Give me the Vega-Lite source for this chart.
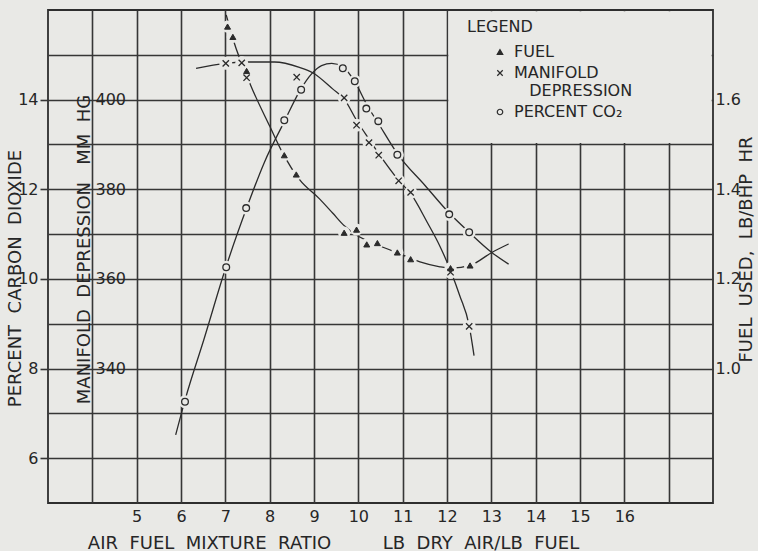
{
  "$schema": "https://vega.github.io/schema/vega-lite/v6.json",
  "width": 665,
  "height": 493,
  "autosize": {"type": "none"},
  "padding": {"left": 48, "top": 10, "right": 45, "bottom": 48},
  "background": "#e9e9e6",
  "config": {
    "font": "DejaVu Sans",
    "view": {"stroke": "#2e2e2e", "strokeWidth": 1.8},
    "axis": {
      "labelFont": "DejaVu Sans",
      "labelFontSize": 16,
      "labelColor": "#262626",
      "labelOverlap": false,
      "labelFlush": false,
      "titleFont": "DejaVu Sans",
      "titleFontSize": 18,
      "titleFontWeight": "normal",
      "titleColor": "#262626",
      "gridColor": "#363636",
      "gridWidth": 1.6,
      "gridOpacity": 1,
      "domain": false,
      "tickColor": "#363636",
      "tickWidth": 1.6
    }
  },
  "datasets": {
    "readings": [
      {"series": "FUEL", "ratio": 7.05, "value": 1.763},
      {"series": "FUEL", "ratio": 7.17, "value": 1.74},
      {"series": "FUEL", "ratio": 7.48, "value": 1.664},
      {"series": "FUEL", "ratio": 8.33, "value": 1.476},
      {"series": "FUEL", "ratio": 8.6, "value": 1.433},
      {"series": "FUEL", "ratio": 9.68, "value": 1.303},
      {"series": "FUEL", "ratio": 9.96, "value": 1.31},
      {"series": "FUEL", "ratio": 10.19, "value": 1.277},
      {"series": "FUEL", "ratio": 10.43, "value": 1.28},
      {"series": "FUEL", "ratio": 10.88, "value": 1.259},
      {"series": "FUEL", "ratio": 11.18, "value": 1.244},
      {"series": "FUEL", "ratio": 12.08, "value": 1.224},
      {"series": "FUEL", "ratio": 12.52, "value": 1.23},
      {"series": "MANIFOLD DEPRESSION", "ratio": 7.01, "value": 408.1},
      {"series": "MANIFOLD DEPRESSION", "ratio": 7.37, "value": 408.2},
      {"series": "MANIFOLD DEPRESSION", "ratio": 7.48, "value": 404.9},
      {"series": "MANIFOLD DEPRESSION", "ratio": 8.61, "value": 405.0},
      {"series": "MANIFOLD DEPRESSION", "ratio": 9.68, "value": 400.4},
      {"series": "MANIFOLD DEPRESSION", "ratio": 9.96, "value": 394.3},
      {"series": "MANIFOLD DEPRESSION", "ratio": 10.24, "value": 390.4},
      {"series": "MANIFOLD DEPRESSION", "ratio": 10.46, "value": 387.6},
      {"series": "MANIFOLD DEPRESSION", "ratio": 10.91, "value": 381.9},
      {"series": "MANIFOLD DEPRESSION", "ratio": 11.18, "value": 379.3},
      {"series": "MANIFOLD DEPRESSION", "ratio": 12.08, "value": 361.5},
      {"series": "MANIFOLD DEPRESSION", "ratio": 12.5, "value": 349.4},
      {"series": "PERCENT CO₂", "ratio": 6.09, "value": 7.26},
      {"series": "PERCENT CO₂", "ratio": 7.02, "value": 10.26},
      {"series": "PERCENT CO₂", "ratio": 7.47, "value": 11.58},
      {"series": "PERCENT CO₂", "ratio": 8.33, "value": 13.54},
      {"series": "PERCENT CO₂", "ratio": 8.71, "value": 14.22},
      {"series": "PERCENT CO₂", "ratio": 9.65, "value": 14.7},
      {"series": "PERCENT CO₂", "ratio": 9.92, "value": 14.41},
      {"series": "PERCENT CO₂", "ratio": 10.18, "value": 13.8},
      {"series": "PERCENT CO₂", "ratio": 10.45, "value": 13.52},
      {"series": "PERCENT CO₂", "ratio": 10.88, "value": 12.77},
      {"series": "PERCENT CO₂", "ratio": 12.05, "value": 11.44},
      {"series": "PERCENT CO₂", "ratio": 12.5, "value": 11.04}
    ],
    "curves": [
      {"series": "FUEL", "ratio": 7.02, "value": 1.789},
      {"series": "FUEL", "ratio": 7.18, "value": 1.733},
      {"series": "FUEL", "ratio": 7.58, "value": 1.63},
      {"series": "FUEL", "ratio": 8.0, "value": 1.541},
      {"series": "FUEL", "ratio": 8.33, "value": 1.474},
      {"series": "FUEL", "ratio": 8.67, "value": 1.422},
      {"series": "FUEL", "ratio": 9.13, "value": 1.378},
      {"series": "FUEL", "ratio": 9.42, "value": 1.347},
      {"series": "FUEL", "ratio": 9.69, "value": 1.318},
      {"series": "FUEL", "ratio": 9.92, "value": 1.3},
      {"series": "FUEL", "ratio": 10.48, "value": 1.274},
      {"series": "FUEL", "ratio": 10.93, "value": 1.256},
      {"series": "FUEL", "ratio": 11.39, "value": 1.238},
      {"series": "FUEL", "ratio": 11.84, "value": 1.227},
      {"series": "FUEL", "ratio": 12.11, "value": 1.224},
      {"series": "FUEL", "ratio": 12.52, "value": 1.23},
      {"series": "FUEL", "ratio": 13.01, "value": 1.259},
      {"series": "FUEL", "ratio": 13.39, "value": 1.278},
      {"series": "MANIFOLD DEPRESSION", "ratio": 6.34, "value": 407.0},
      {"series": "MANIFOLD DEPRESSION", "ratio": 7.0, "value": 408.1},
      {"series": "MANIFOLD DEPRESSION", "ratio": 7.54, "value": 408.4},
      {"series": "MANIFOLD DEPRESSION", "ratio": 8.11, "value": 408.4},
      {"series": "MANIFOLD DEPRESSION", "ratio": 8.67, "value": 407.2},
      {"series": "MANIFOLD DEPRESSION", "ratio": 8.97, "value": 406.0},
      {"series": "MANIFOLD DEPRESSION", "ratio": 9.42, "value": 402.4},
      {"series": "MANIFOLD DEPRESSION", "ratio": 9.69, "value": 400.0},
      {"series": "MANIFOLD DEPRESSION", "ratio": 9.96, "value": 395.4},
      {"series": "MANIFOLD DEPRESSION", "ratio": 10.24, "value": 391.2},
      {"series": "MANIFOLD DEPRESSION", "ratio": 10.48, "value": 387.7},
      {"series": "MANIFOLD DEPRESSION", "ratio": 10.91, "value": 382.0},
      {"series": "MANIFOLD DEPRESSION", "ratio": 11.19, "value": 378.9},
      {"series": "MANIFOLD DEPRESSION", "ratio": 11.55, "value": 372.7},
      {"series": "MANIFOLD DEPRESSION", "ratio": 11.84, "value": 367.3},
      {"series": "MANIFOLD DEPRESSION", "ratio": 12.09, "value": 361.6},
      {"series": "MANIFOLD DEPRESSION", "ratio": 12.29, "value": 356.2},
      {"series": "MANIFOLD DEPRESSION", "ratio": 12.5, "value": 349.6},
      {"series": "MANIFOLD DEPRESSION", "ratio": 12.61, "value": 342.9},
      {"series": "PERCENT CO₂", "ratio": 5.88, "value": 6.52},
      {"series": "PERCENT CO₂", "ratio": 6.1, "value": 7.33},
      {"series": "PERCENT CO₂", "ratio": 6.52, "value": 8.66},
      {"series": "PERCENT CO₂", "ratio": 7.0, "value": 10.22},
      {"series": "PERCENT CO₂", "ratio": 7.48, "value": 11.58},
      {"series": "PERCENT CO₂", "ratio": 7.88, "value": 12.6},
      {"series": "PERCENT CO₂", "ratio": 8.33, "value": 13.51},
      {"series": "PERCENT CO₂", "ratio": 8.67, "value": 14.18},
      {"series": "PERCENT CO₂", "ratio": 8.95, "value": 14.58},
      {"series": "PERCENT CO₂", "ratio": 9.17, "value": 14.76},
      {"series": "PERCENT CO₂", "ratio": 9.4, "value": 14.81},
      {"series": "PERCENT CO₂", "ratio": 9.65, "value": 14.73},
      {"series": "PERCENT CO₂", "ratio": 9.92, "value": 14.4},
      {"series": "PERCENT CO₂", "ratio": 10.2, "value": 13.87},
      {"series": "PERCENT CO₂", "ratio": 10.44, "value": 13.49},
      {"series": "PERCENT CO₂", "ratio": 10.89, "value": 12.78},
      {"series": "PERCENT CO₂", "ratio": 11.5, "value": 12.09},
      {"series": "PERCENT CO₂", "ratio": 12.05, "value": 11.47},
      {"series": "PERCENT CO₂", "ratio": 12.5, "value": 11.04},
      {"series": "PERCENT CO₂", "ratio": 13.01, "value": 10.59},
      {"series": "PERCENT CO₂", "ratio": 13.39, "value": 10.33}
    ]
  },
  "layer": [
    {
      "description": "paper-coloured panel behind the legend block, hiding the grid there",
      "data": {"values": [{}]},
      "mark": {"type": "rect", "fill": "#e9e9e6"},
      "encoding": {
        "x": {"datum": 12.03, "type": "quantitative", "scale": {"domain": [3, 18], "nice": false, "zero": false}},
        "x2": {"datum": 17.97},
        "y": {"datum": 13.03, "type": "quantitative", "scale": {"domain": [5, 16], "nice": false, "zero": false}, "axis": null},
        "y2": {"datum": 15.97}
      }
    },
    {
      "data": {"name": "curves"},
      "transform": [{"filter": "datum.series == 'PERCENT CO₂'"}],
      "mark": {"type": "line", "interpolate": "monotone", "stroke": "#2b2b2b", "strokeWidth": 1.3},
      "encoding": {
        "x": {
          "field": "ratio",
          "type": "quantitative",
          "scale": {"domain": [3, 18], "nice": false, "zero": false},
          "axis": {
            "values": [4, 5, 6, 7, 8, 9, 10, 11, 12, 13, 14, 15, 16, 17],
            "grid": true,
            "ticks": false,
            "tickSize": 0,
            "labelPadding": 5,
            "labelExpr": "datum.value < 5 || datum.value > 16 ? '' : datum.label",
            "title": "AIR \u00a0FUEL \u00a0MIXTURE \u00a0RATIO \u00a0\u00a0\u00a0\u00a0\u00a0\u00a0\u00a0 LB \u00a0DRY \u00a0AIR/LB \u00a0FUEL",
            "titleX": 285,
            "titleY": 45,
            "titleAlign": "center",
            "titleBaseline": "alphabetic",
            "titleAnchor": null
          }
        },
        "y": {
          "field": "value",
          "type": "quantitative",
          "scale": {"domain": [5, 16], "nice": false, "zero": false},
          "axis": {
            "orient": "left",
            "values": [6, 8, 10, 12, 14],
            "grid": false,
            "ticks": true,
            "tickSize": 8,
            "labelPadding": 2,
            "title": "PERCENT \u00a0CARBON \u00a0DIOXIDE",
            "titleAngle": 270,
            "titleX": -33,
            "titleY": 268,
            "titleAlign": "center",
            "titleBaseline": "middle",
            "titleAnchor": null
          }
        }
      }
    },
    {
      "data": {"name": "curves"},
      "transform": [{"filter": "datum.series == 'MANIFOLD DEPRESSION'"}],
      "mark": {"type": "line", "interpolate": "monotone", "stroke": "#2b2b2b", "strokeWidth": 1.3},
      "encoding": {
        "x": {"field": "ratio", "type": "quantitative", "scale": {"domain": [3, 18], "nice": false, "zero": false}},
        "y": {
          "field": "value",
          "type": "quantitative",
          "scale": {"domain": [310, 420], "nice": false, "zero": false},
          "axis": {
            "orient": "left",
            "offset": -47,
            "values": [340, 360, 380, 400],
            "grid": false,
            "ticks": false,
            "tickSize": 0,
            "labelPadding": 0,
            "labelAlign": "left",
            "title": "MANIFOLD \u00a0DEPRESSION \u00a0 MM \u00a0HG",
            "titleAngle": 270,
            "titleX": -11,
            "titleY": 239,
            "titleAlign": "center",
            "titleBaseline": "middle",
            "titleAnchor": null
          }
        }
      }
    },
    {
      "data": {"name": "curves"},
      "transform": [{"filter": "datum.series == 'FUEL'"}],
      "mark": {"type": "line", "interpolate": "monotone", "stroke": "#2b2b2b", "strokeWidth": 1.3},
      "encoding": {
        "x": {"field": "ratio", "type": "quantitative", "scale": {"domain": [3, 18], "nice": false, "zero": false}},
        "y": {
          "field": "value",
          "type": "quantitative",
          "scale": {"domain": [0.7, 1.8], "nice": false, "zero": false},
          "axis": {
            "orient": "right",
            "values": [0.8, 0.9, 1.0, 1.1, 1.2, 1.3, 1.4, 1.5, 1.6, 1.7],
            "grid": true,
            "ticks": false,
            "tickSize": 0,
            "labelPadding": 2,
            "labelExpr": "datum.value == 1 || datum.value == 1.2 || datum.value == 1.4 || datum.value == 1.6 ? format(datum.value, '.1f') : ''",
            "title": "FUEL \u00a0USED, \u00a0LB/BHP \u00a0HR",
            "titleAngle": 270,
            "titleX": 33,
            "titleY": 239,
            "titleAlign": "center",
            "titleBaseline": "middle",
            "titleAnchor": null
          }
        }
      }
    },
    {
      "description": "paper-coloured halos that break the curves around each reading",
      "data": {"name": "readings"},
      "transform": [{"filter": "datum.series == 'PERCENT CO₂'"}],
      "mark": {"type": "point", "filled": true, "fill": "#e9e9e6", "strokeWidth": 0, "size": 170, "opacity": 1},
      "encoding": {
        "x": {"field": "ratio", "type": "quantitative", "scale": {"domain": [3, 18], "nice": false, "zero": false}},
        "y": {"field": "value", "type": "quantitative", "scale": {"domain": [5, 16], "nice": false, "zero": false}, "axis": null}
      }
    },
    {
      "data": {"name": "readings"},
      "transform": [{"filter": "datum.series == 'MANIFOLD DEPRESSION'"}],
      "mark": {"type": "point", "filled": true, "fill": "#e9e9e6", "strokeWidth": 0, "size": 170, "opacity": 1},
      "encoding": {
        "x": {"field": "ratio", "type": "quantitative", "scale": {"domain": [3, 18], "nice": false, "zero": false}},
        "y": {"field": "value", "type": "quantitative", "scale": {"domain": [310, 420], "nice": false, "zero": false}, "axis": null}
      }
    },
    {
      "data": {"name": "readings"},
      "transform": [{"filter": "datum.series == 'FUEL'"}],
      "mark": {"type": "point", "filled": true, "fill": "#e9e9e6", "strokeWidth": 0, "size": 150, "opacity": 1},
      "encoding": {
        "x": {"field": "ratio", "type": "quantitative", "scale": {"domain": [3, 18], "nice": false, "zero": false}},
        "y": {"field": "value", "type": "quantitative", "scale": {"domain": [0.7, 1.8], "nice": false, "zero": false}, "axis": null}
      }
    },
    {
      "data": {"name": "readings"},
      "transform": [{"filter": "datum.series == 'PERCENT CO₂'"}],
      "mark": {"type": "point", "filled": true, "size": 45, "strokeWidth": 1.3, "opacity": 1},
      "encoding": {
        "x": {"field": "ratio", "type": "quantitative", "scale": {"domain": [3, 18], "nice": false, "zero": false}},
        "y": {"field": "value", "type": "quantitative", "scale": {"domain": [5, 16], "nice": false, "zero": false}, "axis": null},
        "shape": {
          "field": "series", "type": "nominal",
          "scale": {"domain": ["FUEL", "MANIFOLD DEPRESSION", "PERCENT CO₂"], "range": ["triangle-up", "M-1,-1L1,1M-1,1L1,-1", "circle"]},
          "legend": {"orient": "none", "legendX": 419, "legendY": 9, "title": "LEGEND", "titleFont": "DejaVu Sans", "titleFontSize": 16, "titleFontWeight": "normal", "titleColor": "#262626", "titlePadding": 9, "labelFont": "DejaVu Sans", "labelFontSize": 16, "labelColor": "#262626", "labelLimit": 0, "symbolSize": 30, "symbolOffset": 25, "labelOffset": 6, "rowPadding": 5, "padding": 0, "symbolStrokeWidth": 1.2, "labelExpr": "datum.label == 'MANIFOLD DEPRESSION' ? ['MANIFOLD', '\u200b\u00a0\u00a0\u00a0DEPRESSION'] : datum.label"}
        },
        "fill": {
          "field": "series", "type": "nominal",
          "scale": {"domain": ["FUEL", "MANIFOLD DEPRESSION", "PERCENT CO₂"], "range": ["#2b2b2b", "#e9e9e6", "#e9e9e6"]},
          "legend": {"orient": "none", "legendX": 419, "legendY": 9, "title": "LEGEND", "titleFont": "DejaVu Sans", "titleFontSize": 16, "titleFontWeight": "normal", "titleColor": "#262626", "titlePadding": 9, "labelFont": "DejaVu Sans", "labelFontSize": 16, "labelColor": "#262626", "labelLimit": 0, "symbolSize": 30, "symbolOffset": 25, "labelOffset": 6, "rowPadding": 5, "padding": 0, "symbolStrokeWidth": 1.2, "labelExpr": "datum.label == 'MANIFOLD DEPRESSION' ? ['MANIFOLD', '\u200b\u00a0\u00a0\u00a0DEPRESSION'] : datum.label"}
        },
        "stroke": {
          "field": "series", "type": "nominal",
          "scale": {"domain": ["FUEL", "MANIFOLD DEPRESSION", "PERCENT CO₂"], "range": ["#2b2b2b", "#2b2b2b", "#2b2b2b"]},
          "legend": {"orient": "none", "legendX": 419, "legendY": 9, "title": "LEGEND", "titleFont": "DejaVu Sans", "titleFontSize": 16, "titleFontWeight": "normal", "titleColor": "#262626", "titlePadding": 9, "labelFont": "DejaVu Sans", "labelFontSize": 16, "labelColor": "#262626", "labelLimit": 0, "symbolSize": 30, "symbolOffset": 25, "labelOffset": 6, "rowPadding": 5, "padding": 0, "symbolStrokeWidth": 1.2, "labelExpr": "datum.label == 'MANIFOLD DEPRESSION' ? ['MANIFOLD', '\u200b\u00a0\u00a0\u00a0DEPRESSION'] : datum.label"}
        }
      }
    },
    {
      "data": {"name": "readings"},
      "transform": [{"filter": "datum.series == 'MANIFOLD DEPRESSION'"}],
      "mark": {"type": "point", "filled": true, "size": 40, "strokeWidth": 1.3, "opacity": 1},
      "encoding": {
        "x": {"field": "ratio", "type": "quantitative", "scale": {"domain": [3, 18], "nice": false, "zero": false}},
        "y": {"field": "value", "type": "quantitative", "scale": {"domain": [310, 420], "nice": false, "zero": false}, "axis": null},
        "shape": {"field": "series", "type": "nominal"},
        "fill": {"field": "series", "type": "nominal"},
        "stroke": {"field": "series", "type": "nominal"}
      }
    },
    {
      "data": {"name": "readings"},
      "transform": [{"filter": "datum.series == 'FUEL'"}],
      "mark": {"type": "point", "filled": true, "size": 36, "strokeWidth": 1, "opacity": 1},
      "encoding": {
        "x": {"field": "ratio", "type": "quantitative", "scale": {"domain": [3, 18], "nice": false, "zero": false}},
        "y": {"field": "value", "type": "quantitative", "scale": {"domain": [0.7, 1.8], "nice": false, "zero": false}, "axis": null},
        "shape": {"field": "series", "type": "nominal"},
        "fill": {"field": "series", "type": "nominal"},
        "stroke": {"field": "series", "type": "nominal"}
      }
    }
  ],
  "resolve": {"scale": {"y": "independent"}, "axis": {"y": "independent"}}
}
